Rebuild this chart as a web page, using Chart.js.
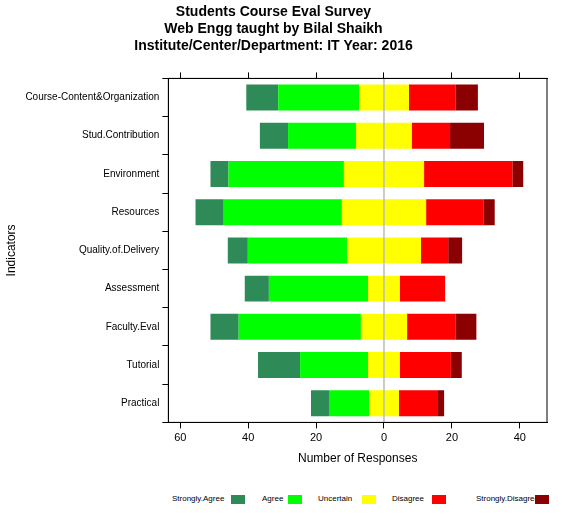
<!DOCTYPE html>
<html><head><meta charset="utf-8">
<script src="https://cdn.jsdelivr.net/npm/chart.js@4/dist/chart.umd.min.js"></script>
<style>
body{margin:0;background:#fff;font-family:"Liberation Sans",Arial,sans-serif;}
#wrap{position:relative;width:569px;height:470px;}
#legend{position:absolute;top:494px;left:0;width:569px;height:12px;font-size:8px;color:#000;}
#legend span,#legend i{position:absolute;top:0;white-space:nowrap;}
#legend i{width:14px;height:9px;top:1px;}
</style></head><body>
<div id="wrap"><canvas id="c" width="569" height="470"></canvas></div>
<div id="legend"></div>
<script>
const categories=["Course-Content&Organization","Stud.Contribution","Environment","Resources","Quality.of.Delivery","Assessment","Faculty.Eval","Tutorial","Practical"];
const stronglyAgree=[9.4,8.3,5.3,8.3,5.9,7.1,8.3,12.4,5.3];
const agree=[23.8,20,34,34.8,29.2,29.2,36,20,11.8];
const uncertain=[14.7,16.5,23.6,24.8,21.8,9.4,13.6,9.4,8.8];
const disagree=[13.8,11.2,26,17,8,13.3,14.2,15,11.5];
const stronglyDisagree=[6.5,10,3.2,3.2,4.1,0,6.2,3.2,1.8];
const legendLabels=["Strongly.Agree","Agree","Uncertain","Disagree","Strongly.Disagree"];
const colors=["#2e8b57","#00ff00","#ffff00","#ff0000","#8b0000"];

const neg=a=>a.map(v=>-v);
const half=a=>a.map(v=>v/2);
const datasets=[
 {label:"UncL",data:neg(half(uncertain)),backgroundColor:colors[2]},
 {label:"Agree",data:neg(agree),backgroundColor:colors[1]},
 {label:"SA",data:neg(stronglyAgree),backgroundColor:colors[0]},
 {label:"UncR",data:half(uncertain),backgroundColor:colors[2]},
 {label:"Dis",data:disagree,backgroundColor:colors[3]},
 {label:"SD",data:stronglyDisagree,backgroundColor:colors[4]}
].map(d=>Object.assign(d,{barPercentage:0.68,categoryPercentage:1,borderWidth:0}));

const frame={id:'frame',afterDatasetsDraw(ch){
 const {ctx,chartArea:a,scales:{x}}=ch;ctx.save();
 const z=x.getPixelForValue(0);
 ctx.strokeStyle='#999';ctx.lineWidth=1;ctx.beginPath();ctx.moveTo(z,a.top);ctx.lineTo(z,a.bottom);ctx.stroke();
 ctx.strokeStyle='#000';ctx.strokeRect(a.left,a.top,a.right-a.left,a.bottom-a.top);ctx.restore();}};

const ticks6=s=>{s.ticks=[-60,-40,-20,0,20,40].map(v=>({value:v}));};
new Chart(document.getElementById('c'),{type:'bar',data:{labels:categories,datasets},
options:{indexAxis:'y',responsive:false,animation:false,devicePixelRatio:1,
 layout:{padding:{left:0,right:22,top:0,bottom:0}},
 plugins:{legend:{display:false},tooltip:{enabled:false},
  title:{display:true,text:["Students Course Eval Survey","Web Engg taught by Bilal Shaikh","Institute/Center/Department: IT Year: 2016"],color:'#000',font:{family:"Liberation Sans",size:14,weight:'bold'},padding:{top:4,bottom:18},lineHeight:1.2}},
 scales:{
  x:{stacked:true,min:-63.5,max:48,position:'bottom',afterBuildTicks:ticks6,
   ticks:{callback:v=>Math.abs(v),color:'#000',font:{family:"Liberation Sans",size:11}},
   grid:{drawOnChartArea:false,color:'#000',tickLength:6},border:{color:'#000'},
   title:{display:true,text:"Number of Responses",color:'#000',font:{family:"Liberation Sans",size:12}}},
  x2:{min:-63.5,max:48,position:'top',afterBuildTicks:ticks6,
   ticks:{display:false},grid:{drawOnChartArea:false,color:'#000',tickLength:6},border:{color:'#000'}},
  y:{stacked:true,ticks:{color:'#000',font:{family:"Liberation Sans",size:10}},
   grid:{drawOnChartArea:false,color:'#000',tickLength:6},border:{color:'#000'},
   title:{display:true,text:"Indicators",color:'#000',font:{family:"Liberation Sans",size:12}}}
 }},plugins:[frame]});

const lg=document.getElementById('legend');
const textPos=[172,262,318,392,476], boxPos=[231,288,362,432,535];
legendLabels.forEach((l,i)=>{
 const s=document.createElement('span');s.style.left=textPos[i]+'px';s.textContent=l;lg.appendChild(s);
 const b=document.createElement('i');b.style.left=boxPos[i]+'px';b.style.background=colors[i];lg.appendChild(b);});
</script></body></html>
